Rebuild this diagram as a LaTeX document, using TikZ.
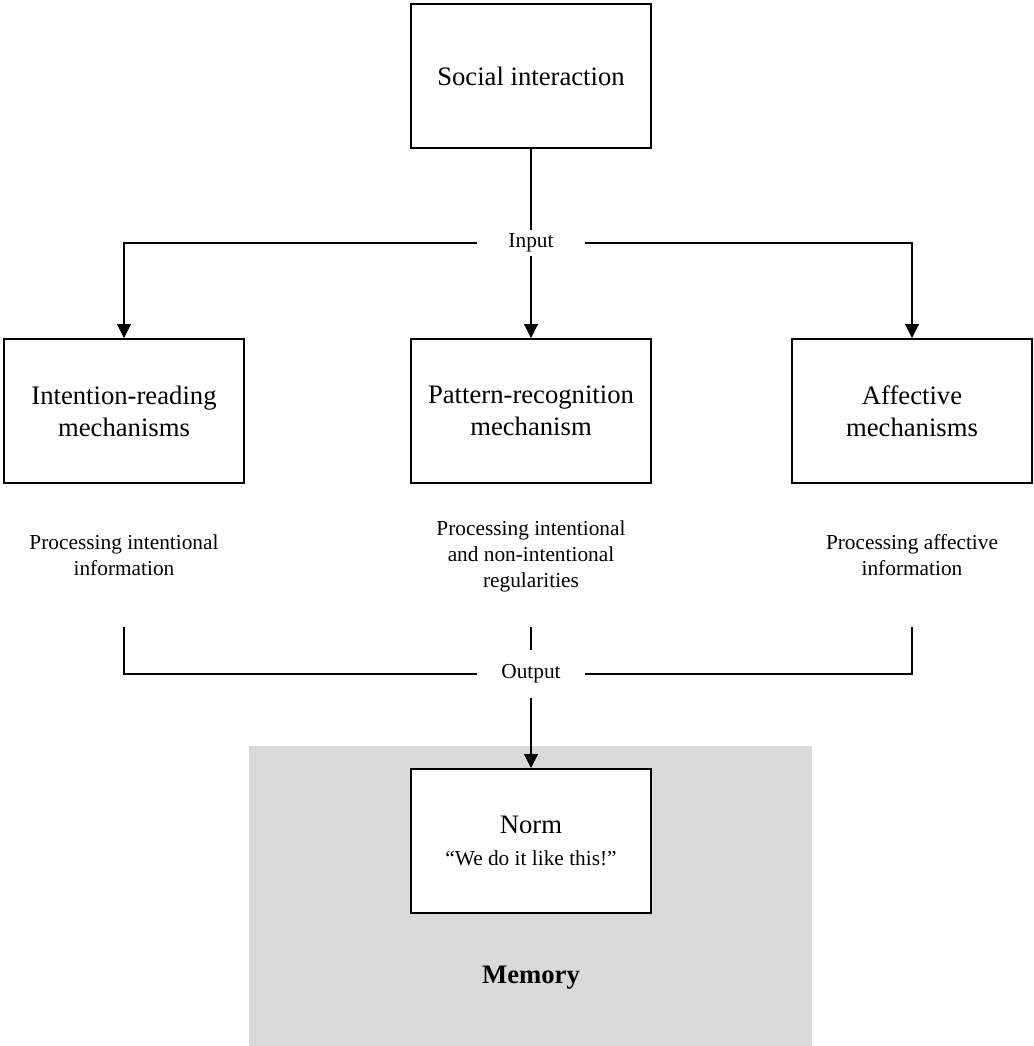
\documentclass[tikz,border=0pt]{standalone}
\usepackage{fontspec}
\setmainfont{Liberation Serif}
\usepackage{tikz}
\usepackage{xcolor}
\usetikzlibrary{arrows.meta}
\definecolor{cinzaclaro}{RGB}{217,217,217}
\definecolor{preto}{RGB}{0,0,0}
\definecolor{branco}{RGB}{255,255,255}

\tikzset{
  caixa/.style={draw=preto, line width=1.5pt, fill=branco, minimum width=180pt, minimum height=108pt, align=center, font=\fontsize{20}{24}\selectfont},
  texto/.style={align=center, font=\fontsize{16}{19.5}\selectfont},
  rotulo/.style={inner sep=0pt, minimum width=81pt, font=\fontsize{16}{19}\selectfont},
  linha/.style={draw=preto, line width=0.8pt},
  seta/.style={linha, -{Triangle[width=10.5pt,length=10.5pt]}}
}

\begin{document}
\begin{tikzpicture}[x=0.75pt, y=-0.75pt]
    \useasboundingbox (0,0) rectangle (1034,1046);
    \fill[cinzaclaro] (249,746) rectangle (812,1046);

    \node[caixa] (social) at (531,76) {Social interaction};
    \node[caixa] (intencao) at (124,411) {Intention-reading\\mechanisms};
    \node[caixa] (padrao) at (531,411) {Pattern-recognition\\mechanism};
    \node[caixa] (afeto) at (912,411) {Affective\\mechanisms};
    \node[caixa] (norma) at (531,841) {Norm\\{\fontsize{16}{19}\selectfont “We do it like this!”}};

    \node[rotulo, minimum height=19.5pt] (entrada) at (531,243) {Input};
    \node[rotulo, minimum height=36pt] (saida) at (531,674) {Output};

    \node[texto] (procint) at (124,555) {Processing intentional\\information};
    \node[texto] (procpad) at (531,556) {Processing intentional\\and non-intentional\\regularities};
    \node[texto] (procafe) at (912,555) {Processing affective\\information};
    \node[font=\fontsize{20}{24}\selectfont\bfseries] (memoria) at (531,978) {Memory};

    \coordinate (saiint) at (124,627);
    \coordinate (saipad) at (531,627);
    \coordinate (saiafe) at (912,627);

    \draw[linha] (social) -- (entrada);
    \draw[seta] (entrada) -- (padrao);
    \draw[seta] (entrada.west) -| (intencao.north);
    \draw[seta] (entrada.east) -| (afeto.north);
    \draw[linha] (saiint) |- (saida.west);
    \draw[linha] (saiafe) |- (saida.east);
    \draw[linha] (saipad) -- (saida.north);
    \draw[seta] (saida) -- (norma);
\end{tikzpicture}
\end{document}
